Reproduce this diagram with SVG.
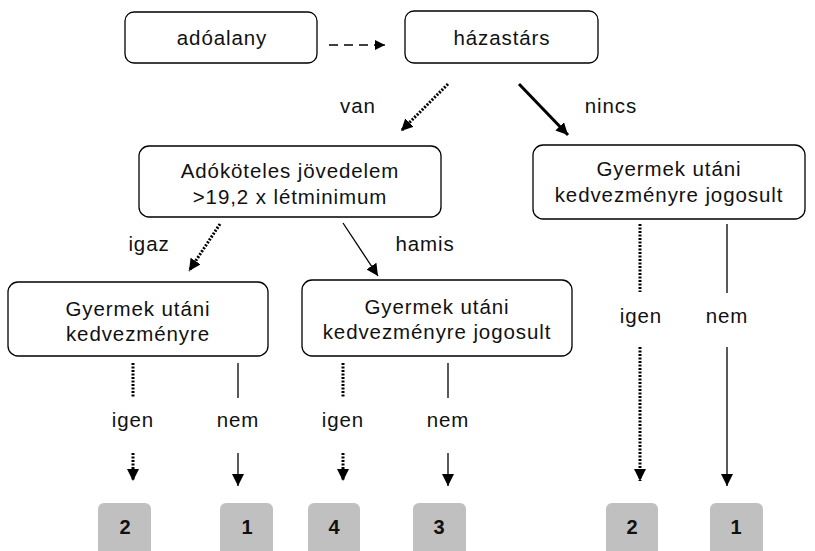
<svg xmlns="http://www.w3.org/2000/svg" width="815" height="551" viewBox="0 0 815 551">
<defs>
<marker id="ah" viewBox="0 0 10 10" refX="10" refY="5" markerWidth="10" markerHeight="10" markerUnits="userSpaceOnUse" orient="auto">
<path d="M0,0 L10,5 L0,10 z" fill="#000"/>
</marker>
<marker id="ahs" viewBox="0 0 10 10" refX="10" refY="5" markerWidth="12" markerHeight="12" markerUnits="userSpaceOnUse" orient="auto">
<path d="M0,0 L10,5 L0,10 z" fill="#000"/>
</marker>
</defs>
<style>
.box{fill:#fff;stroke:#000;stroke-width:1.3}
.num{fill:#c0c0c0}
.t{font-family:"Liberation Sans",Arial,sans-serif;font-size:20.5px;letter-spacing:0.9px;fill:#111;text-anchor:middle}
.n{font-family:"Liberation Sans",Arial,sans-serif;font-size:20px;font-weight:bold;fill:#111;text-anchor:middle}
.sol{stroke:#000;stroke-width:1.3;fill:none}
.dot{stroke:#000;stroke-width:3;stroke-dasharray:2 1.5;fill:none}
.dash{stroke:#000;stroke-width:1.5;stroke-dasharray:9 6;fill:none}
.thick{stroke:#000;stroke-width:3;fill:none}
</style>
<g id="connectors">
<path class="dash" d="M329,45 H376" />
<path d="M376,45 H385" class="sol" marker-end="url(#ah)"/>
<path class="dot" d="M448,84 L401,131" marker-end="url(#ahs)"/>
<path class="thick" d="M519,84 L568,135" marker-end="url(#ahs)"/>
<path class="dot" d="M220,224 L189,271" marker-end="url(#ahs)"/>
<path class="sol" d="M343,223 L378,276" marker-end="url(#ahs)"/>
<path class="dot" d="M133,363 V398"/>
<path class="dot" d="M133,453 V481" marker-end="url(#ahs)"/>
<path class="sol" d="M238,363 V398"/>
<path class="sol" d="M238,453 V486" marker-end="url(#ahs)"/>
<path class="dot" d="M343,363 V398"/>
<path class="dot" d="M343,453 V481" marker-end="url(#ahs)"/>
<path class="sol" d="M448,363 V398"/>
<path class="sol" d="M448,453 V486" marker-end="url(#ahs)"/>
<path class="dot" d="M640,224 V292"/>
<path class="dot" d="M640,347 V481" marker-end="url(#ahs)"/>
<path class="sol" d="M727,224 V293"/>
<path class="sol" d="M727,347 V486" marker-end="url(#ahs)"/>
<text class="t" x="358" y="113">van</text>
<text class="t" x="611" y="113">nincs</text>
<text class="t" x="149" y="251">igaz</text>
<text class="t" x="425" y="251">hamis</text>
<text class="t" x="133" y="427">igen</text>
<text class="t" x="238" y="427">nem</text>
<text class="t" x="343" y="427">igen</text>
<text class="t" x="448" y="427">nem</text>
<text class="t" x="641" y="323">igen</text>
<text class="t" x="727" y="323">nem</text>
</g>
<g id="adoalany">
<rect class="box" x="125" y="12" width="192" height="51" rx="9"/>
<text class="t" x="222" y="45">adóalany</text>
</g>
<g id="hazastars">
<rect class="box" x="405" y="11" width="193" height="52" rx="9"/>
<text class="t" x="502" y="45">házastárs</text>
</g>
<g id="adokoteles">
<rect class="box" x="139" y="146" width="302" height="71" rx="10"/>
<text class="t" x="290" y="178">Adóköteles jövedelem</text>
<text class="t" x="290" y="204">&gt;19,2 x létminimum</text>
</g>
<g id="gyermek-jogosult-right">
<rect class="box" x="533" y="145" width="272" height="74" rx="10"/>
<text class="t" x="669" y="176">Gyermek utáni</text>
<text class="t" x="669" y="202">kedvezményre jogosult</text>
</g>
<g id="gyermek-left">
<rect class="box" x="8" y="282" width="260" height="74" rx="10"/>
<text class="t" x="138" y="316">Gyermek utáni</text>
<text class="t" x="138" y="341">kedvezményre</text>
</g>
<g id="gyermek-jogosult-mid">
<rect class="box" x="302" y="280" width="270" height="76" rx="10"/>
<text class="t" x="437" y="314">Gyermek utáni</text>
<text class="t" x="437" y="339">kedvezményre jogosult</text>
</g>
<g id="r2a">
<rect class="num" x="98" y="503" width="53" height="60" rx="6"/>
<text class="n" x="125" y="534">2</text>
</g>
<g id="r1a">
<rect class="num" x="220" y="503" width="53" height="60" rx="6"/>
<text class="n" x="247" y="534">1</text>
</g>
<g id="r4">
<rect class="num" x="308" y="503" width="52" height="60" rx="6"/>
<text class="n" x="334" y="534">4</text>
</g>
<g id="r3">
<rect class="num" x="413" y="503" width="53" height="60" rx="6"/>
<text class="n" x="439" y="534">3</text>
</g>
<g id="r2b">
<rect class="num" x="606" y="503" width="52" height="60" rx="6"/>
<text class="n" x="632" y="534">2</text>
</g>
<g id="r1b">
<rect class="num" x="710" y="503" width="53" height="60" rx="6"/>
<text class="n" x="736" y="534">1</text>
</g>
</svg>
